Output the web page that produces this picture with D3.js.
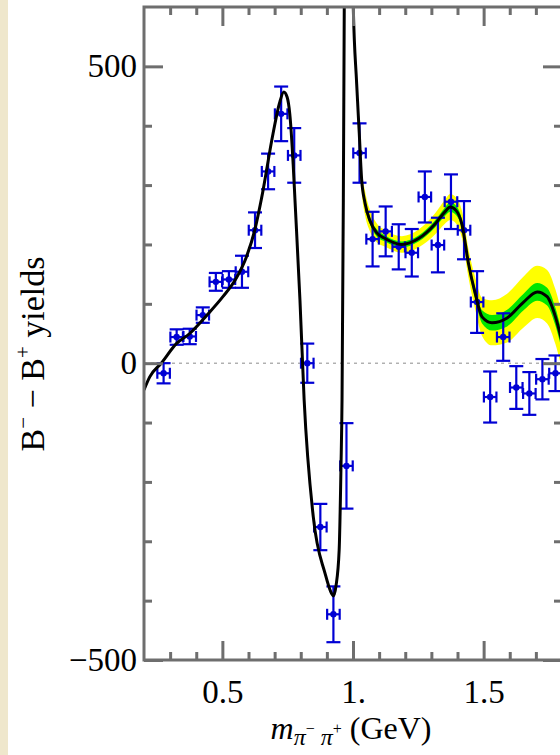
<!DOCTYPE html>
<html>
<head>
<meta charset="utf-8">
<script src="https://cdn.jsdelivr.net/npm/d3@7"></script>
<style>
  html, body { margin: 0; padding: 0; background: #ffffff; }
  svg { display: block; }
  text { font-family: "Liberation Serif", "Times New Roman", "DejaVu Serif", serif; fill: #000; }
</style>
</head>
<body>
<svg id="chart" width="560" height="755"></svg>
<script>
// Measured B- minus B+ yields per m(pi- pi+) bin
const binCenters = [0.275, 0.325, 0.375, 0.425, 0.475, 0.525, 0.575, 0.625, 0.675, 0.725,
                    0.775, 0.825, 0.875, 0.925, 0.975, 1.025, 1.075, 1.125, 1.175, 1.225,
                    1.275, 1.325, 1.375, 1.425, 1.475, 1.525, 1.575, 1.625, 1.675, 1.725, 1.775];
const yields     = [-17, 44, 45, 81, 137, 141, 154, 224, 323, 420,
                    350, 0, -276, -423, -173, 354, 209, 222, 196, 186,
                    280, 199, 272, 224, 103, -57, 44, -41, -51, -27, -17];
const yieldErrs  = [17, 13, 13, 13, 15, 14, 27, 30, 30, 46,
                    46, 33, 39, 47, 72, 50, 46, 42, 38, 40,
                    43, 46, 46, 49, 52, 43, 40, 36, 36, 34, 30];
const binHalfWidth = 0.024;

// Model curve (black) with its 1-sigma (green) and 2-sigma (yellow) bands
const fitMass = [0.200, 0.222, 0.266, 0.324, 0.375, 0.439, 0.502, 0.553, 0.592, 0.624,
                 0.650, 0.694, 0.718, 0.735, 0.748, 0.758, 0.771, 0.778, 0.797, 0.813,
                 0.848, 0.893, 0.918, 0.925, 0.935, 0.947, 0.954, 0.958, 0.963, 0.967,
                 0.975, 0.990, 1.000, 1.014, 1.024, 1.033, 1.046, 1.065, 1.090, 1.123,
                 1.187, 1.251, 1.315, 1.350, 1.372, 1.395, 1.417, 1.442, 1.468, 1.494,
                 1.532, 1.590, 1.653, 1.705, 1.743, 1.775, 1.800];
const fitYield = [-45, -23, 0, 33, 50, 80, 112, 143, 179, 224,
                  278, 387, 437, 457, 448, 420, 335, 274, 106, -62,
                  -259, -354, -388, -392, -375, -315, -175, -62, 274, 640,
                  1000, 1000, 620, 471, 387, 310, 270, 240, 220, 210,
                  200, 210, 235, 254, 263, 257, 234, 168, 117, 78,
                  68, 76, 103, 120, 112, 78, 36];
const band2Sigma = [null, null, null, null, null, null, null, null, null, null,
                    null, null, null, null, null, null, null, null, null, null,
                    null, null, null, null, null, null, null, null, null, null,
                    null, null, null, null, 14, 18, 20, 18, 16, 14,
                    14, 15, 18, 20, 22, 22, 23, 24, 27, 32,
                    38, 41, 43, 44, 45, 46, 46];
const band1Sigma = [null, null, null, null, null, null, null, null, null, null,
                    null, null, null, null, null, null, null, null, null, null,
                    null, null, null, null, null, null, null, null, null, null,
                    null, null, null, null, 5, 6, 7, 6, 6, 5,
                    5, 5, 6, 7, 8, 8, 8, 8, 9, 11,
                    13, 14, 14, 15, 15, 15, 15];

const xMajorTicks = [0.5, 1.0, 1.5];
const xMajorLabels = ["0.5", "1.", "1.5"];
const xMinorTicks = [0.3, 0.4, 0.6, 0.7, 0.8, 0.9, 1.1, 1.2, 1.3, 1.4, 1.6, 1.7];
const yMajorTicks = [-500, 0, 500];
const yMajorLabels = ["\u2212500", "0", "500"];
const yMinorTicks = [-400, -300, -200, -100, 100, 200, 300, 400];

const svg = d3.select("#chart");

// page edge strip
svg.append("rect").attr("x", 0).attr("y", 0).attr("width", 8).attr("height", 755).attr("fill", "#efe7cc");

const plot = { left: 144, right: 562, top: 7, bottom: 660 };
const x = d3.scaleLinear().domain([0.2, 1.8]).range([plot.left, plot.right]);
const y = d3.scaleLinear().domain([-500, 600]).range([plot.bottom, plot.top]);

svg.append("defs").append("clipPath").attr("id", "plotClip")
  .append("rect").attr("x", plot.left).attr("y", plot.top)
  .attr("width", plot.right - plot.left).attr("height", plot.bottom - plot.top);

const inner = svg.append("g").attr("clip-path", "url(#plotClip)");

// zero reference line
inner.append("line")
  .attr("x1", plot.left).attr("x2", plot.right)
  .attr("y1", y(0)).attr("y2", y(0))
  .attr("stroke", "#8a8a8a").attr("stroke-width", 1).attr("stroke-dasharray", "3,4");

const fitRows = fitMass.map((m, i) => ({ m, v: fitYield[i], e2: band2Sigma[i], e1: band1Sigma[i] }));

const area2 = d3.area().defined(d => d.e2 != null)
  .x(d => x(d.m)).y0(d => y(d.v - d.e2)).y1(d => y(d.v + d.e2))
  .curve(d3.curveMonotoneX);
const area1 = d3.area().defined(d => d.e1 != null)
  .x(d => x(d.m)).y0(d => y(d.v - d.e1)).y1(d => y(d.v + d.e1))
  .curve(d3.curveMonotoneX);

inner.append("path").datum(fitRows).attr("d", area2).attr("fill", "#ffff00");
inner.append("path").datum(fitRows).attr("d", area1).attr("fill", "#00e600");

// error bars
const pts = binCenters.map((m, i) => ({ m, v: yields[i], e: yieldErrs[i] }));
const blue = "#0000d4";
const eb = inner.append("g").attr("stroke", blue).attr("stroke-width", 2.2).attr("fill", "none");
const capV = 7, capH = 5.5;
pts.forEach(d => {
  const cx = x(d.m), cy = y(d.v), yTop = y(d.v + d.e), yBot = y(d.v - d.e);
  const xl = x(d.m - binHalfWidth), xr = x(d.m + binHalfWidth);
  eb.append("line").attr("x1", cx).attr("x2", cx).attr("y1", yTop).attr("y2", yBot);
  eb.append("line").attr("x1", cx - capV).attr("x2", cx + capV).attr("y1", yTop).attr("y2", yTop);
  eb.append("line").attr("x1", cx - capV).attr("x2", cx + capV).attr("y1", yBot).attr("y2", yBot);
  eb.append("line").attr("x1", xl).attr("x2", xr).attr("y1", cy).attr("y2", cy);
  eb.append("line").attr("x1", xl).attr("x2", xl).attr("y1", cy - capH).attr("y2", cy + capH);
  eb.append("line").attr("x1", xr).attr("x2", xr).attr("y1", cy - capH).attr("y2", cy + capH);
});
inner.append("g").selectAll("circle").data(pts).join("circle")
  .attr("cx", d => x(d.m)).attr("cy", d => y(d.v)).attr("r", 3.2).attr("fill", blue);

// fit curve
const line = d3.line().x(d => x(d.m)).y(d => y(d.v)).curve(d3.curveMonotoneX);
inner.append("path").datum(fitRows).attr("d", line)
  .attr("fill", "none").attr("stroke", "#000").attr("stroke-width", 3);

// frame and ticks
const frameColor = "#6e6e6e";
function styleAxis(g) {
  g.select(".domain").remove();
  g.selectAll(".tick line").attr("stroke", frameColor).attr("stroke-width", 3);
  g.selectAll(".tick text").attr("font-size", 33).attr("fill", "#000")
    .attr("font-family", "'Liberation Serif', 'Times New Roman', serif");
}
const majorLen = 19, minorLen = 8;

svg.append("g").attr("transform", `translate(0,${plot.bottom})`)
  .call(d3.axisBottom(x).tickValues(xMajorTicks).tickSize(-majorLen).tickPadding(20)
    .tickFormat((d, i) => xMajorLabels[i])).call(styleAxis);
svg.append("g").attr("transform", `translate(0,${plot.bottom})`)
  .call(d3.axisBottom(x).tickValues(xMinorTicks).tickSize(-minorLen).tickFormat("")).call(styleAxis);
svg.append("g").attr("transform", `translate(0,${plot.top})`)
  .call(d3.axisTop(x).tickValues(xMajorTicks).tickSize(-majorLen).tickFormat("")).call(styleAxis);
svg.append("g").attr("transform", `translate(0,${plot.top})`)
  .call(d3.axisTop(x).tickValues(xMinorTicks).tickSize(-minorLen).tickFormat("")).call(styleAxis);

svg.append("g").attr("transform", `translate(${plot.left},0)`)
  .call(d3.axisLeft(y).tickValues(yMajorTicks).tickSize(-majorLen).tickPadding(7)
    .tickFormat((d, i) => yMajorLabels[i])).call(styleAxis);
svg.append("g").attr("transform", `translate(${plot.left},0)`)
  .call(d3.axisLeft(y).tickValues(yMinorTicks).tickSize(-minorLen).tickFormat("")).call(styleAxis);
svg.append("g").attr("transform", `translate(${plot.right},0)`)
  .call(d3.axisRight(y).tickValues(yMajorTicks).tickSize(-majorLen).tickFormat("")).call(styleAxis);
svg.append("g").attr("transform", `translate(${plot.right},0)`)
  .call(d3.axisRight(y).tickValues(yMinorTicks).tickSize(-minorLen).tickFormat("")).call(styleAxis);

svg.append("rect")
  .attr("x", plot.left).attr("y", plot.top)
  .attr("width", plot.right - plot.left).attr("height", plot.bottom - plot.top)
  .attr("fill", "none").attr("stroke", frameColor).attr("stroke-width", 3);

// axis titles
const xt = svg.append("text").attr("x", 351).attr("y", 739).attr("text-anchor", "middle").attr("font-size", 32);
xt.append("tspan").attr("font-style", "italic").text("m");
xt.append("tspan").attr("font-style", "italic").attr("font-size", 24).attr("dy", 6).text("\u03c0");
xt.append("tspan").attr("font-size", 16).attr("dy", -11).text("\u2212");
xt.append("tspan").attr("font-style", "italic").attr("font-size", 24).attr("dy", 11).attr("dx", 6).text("\u03c0");
xt.append("tspan").attr("font-size", 16).attr("dy", -11).text("+");
xt.append("tspan").attr("dy", 5).text(" (GeV)");

const yt = svg.append("text").attr("transform", "translate(44,354) rotate(-90)")
  .attr("text-anchor", "middle").attr("font-size", 34);
yt.append("tspan").text("B");
yt.append("tspan").attr("font-size", 21).attr("dy", -14).text("\u2212");
yt.append("tspan").attr("dy", 14).text(" \u2212 B");
yt.append("tspan").attr("font-size", 21).attr("dy", -14).text("+");
yt.append("tspan").attr("dy", 14).text(" yields");
</script>
</body>
</html>
